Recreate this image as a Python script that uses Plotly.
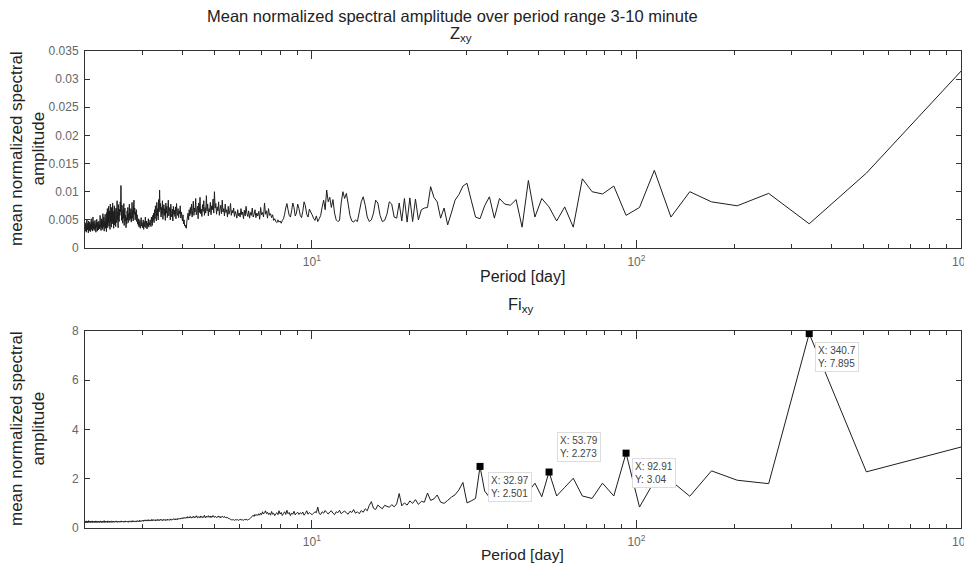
import math
import plotly.graph_objects as go

# ---------------- data ----------------
record_days = 1022.0  # spectral grid: period = record length / harmonic number

# Z_xy mean normalized spectral amplitude, ordered from harmonic 511 (2 days) down to harmonic 1
z_amp = [
    .0035, .0042, .0030, .0045, .0038, .0028, .0041, .0050, .0036, .0032,
    .0044, .0039, .0027, .0048, .0035, .0040, .0031, .0046, .0037, .0029,
    .0043, .0036, .0052, .0033, .0039, .0045, .0030, .0041, .0055, .0034,
    .0038, .0047, .0031, .0042, .0036, .0049, .0033, .0040, .0028, .0044,
    .0037, .0051, .0035, .0030, .0046, .0039, .0043, .0032, .0048, .0036,
    .0041, .0034, .0058, .0038, .0045, .0031, .0052, .0040, .0036, .0049,
    .0033, .0061, .0042, .0037, .0055, .0030, .0047, .0039, .0060, .0035,
    .0044, .0052, .0029, .0063, .0041, .0070, .0036, .0058, .0045, .0074,
    .0039, .0066, .0050, .0033, .0078, .0046, .0061, .0037, .0072, .0054,
    .0043, .0080, .0048, .0065, .0035, .0057, .0075, .0041, .0068, .0052,
    .0038, .0071, .0060, .0045, .0084, .0050, .0063, .0036, .0077, .0055,
    .0047, .0069, .0058, .0082, .0064, .0111, .0070, .0049, .0076, .0059,
    .0044, .0067, .0053, .0079, .0040, .0062, .0071, .0048, .0058, .0036,
    .0054, .0043, .0066, .0050, .0072, .0045, .0061, .0055, .0078, .0049,
    .0063, .0052, .0070, .0046, .0058, .0081, .0053, .0067, .0048, .0075,
    .0085, .0060, .0071, .0050, .0064, .0056, .0068, .0047, .0059, .0043,
    .0046, .0040, .0052, .0037, .0044, .0049, .0035, .0042, .0054, .0039,
    .0045, .0036, .0041, .0050, .0033, .0047, .0038, .0043, .0055, .0036,
    .0040, .0048, .0034, .0044, .0039, .0052, .0037, .0045, .0041, .0050,
    .0043, .0038, .0055, .0046, .0040, .0058, .0049, .0062, .0045, .0068,
    .0052, .0075, .0060, .0048, .0081, .0057, .0070, .0050, .0086, .0064,
    .0103, .0068, .0079, .0055, .0072, .0060, .0084, .0051, .0066, .0077,
    .0058, .0070, .0049, .0080, .0062, .0074, .0054, .0068, .0085, .0057,
    .0065, .0072, .0050, .0078, .0061, .0055, .0069, .0048, .0074, .0060,
    .0067, .0056, .0073, .0052, .0079, .0063, .0058, .0070, .0054, .0066,
    .0061, .0075, .0053, .0064, .0057, .0048, .0059, .0043, .0050, .0039,
    .0041, .0036, .0035, .0048, .0055, .0062, .0050, .0068, .0057, .0072,
    .0060, .0078, .0055, .0066, .0083, .0058, .0071, .0064, .0088, .0059,
    .0067, .0074, .0052, .0080, .0063, .0090, .0061, .0069, .0056, .0077,
    .0065, .0084, .0058, .0072, .0062, .0093, .0066, .0078, .0057, .0070,
    .0064, .0081, .0059, .0075, .0068, .0087, .0062, .0100, .0071, .0079,
    .0060, .0073, .0066, .0082, .0058, .0069, .0076, .0061, .0085, .0064,
    .0070, .0057, .0078, .0063, .0068, .0055, .0074, .0060, .0066, .0079,
    .0058, .0067, .0062, .0071, .0056, .0065, .0060, .0053, .0068, .0057,
    .0062, .0055, .0070, .0059, .0064, .0052, .0067, .0057, .0074, .0061,
    .0056, .0066, .0053, .0063, .0058, .0071, .0055, .0060, .0068, .0054,
    .0062, .0057, .0065, .0051, .0072, .0059, .0063, .0055, .0080, .0060,
    .0066, .0053, .0070, .0058, .0061, .0054, .0059, .0049, .0052, .0047,
    .0045, .0050, .0046, .0048, .0044, .0049, .0052, .0060, .0071, .0079,
    .0068, .0058, .0055, .0066, .0080, .0072, .0057, .0062, .0078, .0070,
    .0058, .0054, .0065, .0082, .0075, .0060, .0055, .0069, .0064, .0059,
    .0053, .0049, .0057, .0047, .0052, .0058, .0073, .0085, .0068, .0103,
    .0082, .0090, .0072, .0086, .0062, .0050, .0047, .0049, .0080, .0100,
    .0088, .0097, .0078, .0058, .0048, .0046, .0050, .0047, .0064, .0082,
    .0091, .0076, .0055, .0047, .0050, .0062, .0085, .0080, .0058, .0047,
    .0049, .0060, .0082, .0078, .0055, .0053, .0080, .0048, .0088, .0046,
    .0089, .0047, .0087, .0050, .0068, .0071, .0072, .0109, .0090, .0082,
    .0053, .0071, .0041, .0062, .0085, .0095, .0110, .0115, .0085, .0055,
    .0052, .0075, .0091, .0053, .0088, .0078, .0076, .0086, .0037, .0120,
    .0055, .0088, .0073, .0048, .0073, .0037, .0123, .0100, .0096, .0110,
    .0058, .0072, .0138, .0055, .0100, .0082, .0075, .0097, .0043, .0133,
    .0320,
]

# Fi_xy mean normalized spectral amplitude, same ordering
fi_amp = [
    .24, .27, .22, .25, .29, .23, .26, .21, .25, .28,
    .23, .26, .24, .30, .22, .25, .27, .23, .26, .24,
    .28, .22, .25, .27, .24, .29, .23, .26, .22, .25,
    .27, .24, .23, .28, .25, .22, .26, .24, .29, .23,
    .25, .27, .22, .26, .24, .28, .23, .25, .27, .24,
    .22, .26, .29, .24, .25, .23, .27, .25, .22, .28,
    .24, .26, .23, .27, .25, .30, .24, .22, .26, .25,
    .28, .23, .25, .27, .24, .26, .22, .29, .25, .24,
    .26, .23, .28, .25, .27, .24, .22, .26, .29, .25,
    .23, .27, .25, .24, .28, .26, .23, .25, .27, .24,
    .26, .29, .24, .25, .27, .23, .26, .28, .25, .24,
    .27, .25, .23, .28, .26, .24, .29, .25, .27, .24,
    .26, .28, .25, .23, .27, .26, .24, .29, .25, .27,
    .24, .26, .28, .25, .27, .23, .26, .29, .25, .27,
    .28, .25, .26, .29, .24, .27, .26, .30, .25, .27,
    .26, .28, .25, .29, .27, .24, .28, .26, .30, .27,
    .29, .26, .28, .27, .31, .25, .28, .30, .27, .29,
    .28, .31, .29, .27, .32, .30, .28, .33, .29, .31,
    .30, .33, .28, .32, .31, .29, .34, .30, .32, .28,
    .31, .33, .30, .35, .29, .32, .34, .31, .30, .33,
    .32, .29, .34, .31, .33, .30, .35, .32, .31, .34,
    .30, .33, .36, .31, .32, .34, .30, .33, .35, .31,
    .34, .32, .30, .35, .33, .31, .36, .32, .34, .33,
    .31, .35, .33, .37, .32, .34, .36, .33, .35, .38,
    .34, .36, .33, .38, .35, .37, .34, .39, .36, .38,
    .37, .40, .36, .39, .41, .38, .42, .39, .43, .40,
    .42, .39, .44, .41, .46, .40, .43, .45, .41, .47,
    .43, .40, .45, .42, .48, .44, .41, .46, .43, .50,
    .44, .42, .47, .43, .45, .41, .49, .44, .46, .42,
    .47, .43, .52, .45, .41, .48, .44, .46, .50, .43,
    .45, .49, .42, .47, .44, .51, .46, .43, .48, .45,
    .42, .46, .44, .49, .43, .47, .41, .45, .48, .44,
    .44, .47, .42, .45, .41, .43, .39, .40, .36, .35,
    .33, .35, .32, .34, .31, .33, .35, .32, .34, .31,
    .33, .36, .32, .34, .33, .31, .35, .33, .36, .34,
    .32, .35, .37, .40, .44, .48, .52, .47, .55, .50,
    .55, .51, .58, .52, .60, .54, .66, .57, .62, .70,
    .58, .64, .55, .61, .52, .67, .56, .60, .50, .58,
    .62, .54, .70, .57, .63, .51, .59, .66, .55, .72,
    .58, .63, .50, .61, .56, .68, .53, .60, .64, .55,
    .62, .57, .65, .52, .59, .70, .56, .63, .58, .54,
    .60, .66, .62, .85, .58, .55, .66, .60, .71, .63,
    .57, .65, .70, .60, .54, .66, .62, .72, .58, .64,
    .69, .61, .56, .68, .63, .75, .60, .66, .58, .71,
    .64, .78, .70, .92, 1.07, .80, .75, .93, .85, .78,
    .92, .88, .84, .95, .86, .98, 1.40, .90, 1.02, .93,
    1.10, 1.00, 1.15, .96, 1.08, 1.05, 1.42, 1.12, 1.18, 1.34,
    1.05, 1.00, 1.12, 1.25, 1.35, 1.55, 1.85, 1.02, 1.10, 1.20,
    2.501, 1.50, 1.25, 1.45, 1.30, 1.55, 1.35, 1.50, 1.30, 1.47,
    1.82, 1.27, 2.273, 1.30, 1.65, 2.02, 1.30, 1.20, 1.82, 1.30,
    3.04, 0.85, 1.90, 1.92, 1.29, 2.32, 1.94, 1.80, 7.895, 2.28,
    3.32,
]

assert len(z_amp) == 511 and len(fi_amp) == 511
harmonics = list(range(len(z_amp), 0, -1))
period_days = [record_days / k for k in harmonics]

# data tips shown on the Fi_xy panel
tip_period = [32.97, 53.79, 92.91, 340.7]
tip_value = [2.501, 2.273, 3.04, 7.895]

title_text = "Mean normalized spectral amplitude over period range 3-10 minute"
x_tickvals = [10, 100, 1000]
x_ticktext = ["10<sup>1</sup>", "10<sup>2</sup>", "10<sup>3</sup>"]
x_minor_vals = [2, 3, 4, 5, 6, 7, 8, 9, 20, 30, 40, 50, 60, 70, 80, 90,
                200, 300, 400, 500, 600, 700, 800, 900]

# ---------------- figure ----------------
VIEW_W, VIEW_H = 972, 571
BODY = 8  # default page margin in front of the plot div
W, H = VIEW_W - BODY, VIEW_H - 2 * BODY
FONT = "Liberation Sans, Arial, sans-serif"
AX = "#333333"
LINE = "#1e1e1e"


def fx(px):
    return (px - BODY) / W


def fy(py):
    return 1 - (py - BODY) / H


fig = go.Figure()
fig.add_trace(go.Scatter(x=period_days, y=z_amp, mode="lines",
                         line=dict(color=LINE, width=1, simplify=False),
                         xaxis="x", yaxis="y", showlegend=False, hoverinfo="skip"))
fig.add_trace(go.Scatter(x=period_days, y=fi_amp, mode="lines",
                         line=dict(color=LINE, width=1, simplify=False),
                         xaxis="x2", yaxis="y2", showlegend=False, hoverinfo="skip"))
fig.add_trace(go.Scatter(x=tip_period, y=tip_value, mode="markers",
                         marker=dict(symbol="square", size=7, color="black"),
                         xaxis="x2", yaxis="y2", showlegend=False, cliponaxis=False,
                         hoverinfo="skip"))

xcommon = dict(
    type="log", range=[math.log10(2), 3], tickmode="array",
    tickvals=x_tickvals, ticktext=x_ticktext,
    ticks="inside", ticklen=8, tickwidth=1, tickcolor=AX,
    showline=True, linecolor=AX, linewidth=1, mirror="ticks",
    showgrid=False, zeroline=False, automargin=False,
    tickfont=dict(family=FONT, size=12, color="#666666"),
    ticklabelstandoff=3, ticklabeloverflow="allow",
    minor=dict(tickmode="array", tickvals=x_minor_vals, ticks="inside",
               ticklen=4, tickcolor=AX, showgrid=False),
)
ycommon = dict(
    ticks="inside", ticklen=5, tickwidth=1, tickcolor=AX,
    showline=True, linecolor=AX, linewidth=1, mirror="ticks",
    showgrid=False, zeroline=False, automargin=False,
    tickfont=dict(family=FONT, size=12, color="#666666"),
    ticklabelstandoff=3,
)

fig.update_layout(
    width=W, height=H,
    margin=dict(l=0, r=0, t=0, b=0),
    paper_bgcolor="white", plot_bgcolor="white",
    font=dict(family=FONT, color="#222222"),
    xaxis=dict(xcommon, domain=[fx(85), fx(961)], anchor="y"),
    yaxis=dict(ycommon, domain=[fy(248), fy(51)], anchor="x",
               range=[0, 0.035], tickmode="array",
               tickvals=[0, 0.005, 0.01, 0.015, 0.02, 0.025, 0.03, 0.035],
               ticktext=["0", "0.005", "0.01", "0.015", "0.02", "0.025", "0.03", "0.035"]),
    xaxis2=dict(xcommon, domain=[fx(85), fx(961)], anchor="y2"),
    yaxis2=dict(ycommon, domain=[fy(528), fy(331)], anchor="x2",
                range=[0, 8], tickmode="array", tickvals=[0, 2, 4, 6, 8]),
)

ann = []


def text_at(px, py, text, size=16, **kw):
    ann.append(dict(x=fx(px), y=fy(py), xref="paper", yref="paper", text=text,
                    showarrow=False, xanchor="center", yanchor="middle",
                    font=dict(family=FONT, size=size, color="#222222"), **kw))


text_at(452, 16, title_text, 16.5)
text_at(461, 34, "Z<sub>xy</sub>", 16.5)
text_at(521, 305, "Fi<sub>xy</sub>", 16.5)
text_at(522, 277, "Period [day]", 16)
text_at(522, 554, "Period [day]", 15.5)
text_at(27, 149, "mean normalized spectral<br>amplitude", 17, textangle=-90)
text_at(27, 429, "mean normalized spectral<br>amplitude", 17, textangle=-90)

tip_offsets = [(8, -6, "top"), (8, 10, "bottom"), (6, -5, "top"), (6, -8, "top")]
for p, v, (dx, dy, ya) in zip(tip_period, tip_value, tip_offsets):
    ann.append(dict(x=math.log10(p), y=v, xref="x2", yref="y2",
                    text=f"X: {p}<br>Y: {v}", showarrow=False, align="left",
                    xanchor="left", yanchor=ya, xshift=dx, yshift=dy,
                    font=dict(family=FONT, size=10, color="#444444"),
                    bgcolor="white", bordercolor="#dddddd", borderwidth=1, borderpad=2))

fig.update_layout(annotations=ann)
fig.write_html("out.html")
